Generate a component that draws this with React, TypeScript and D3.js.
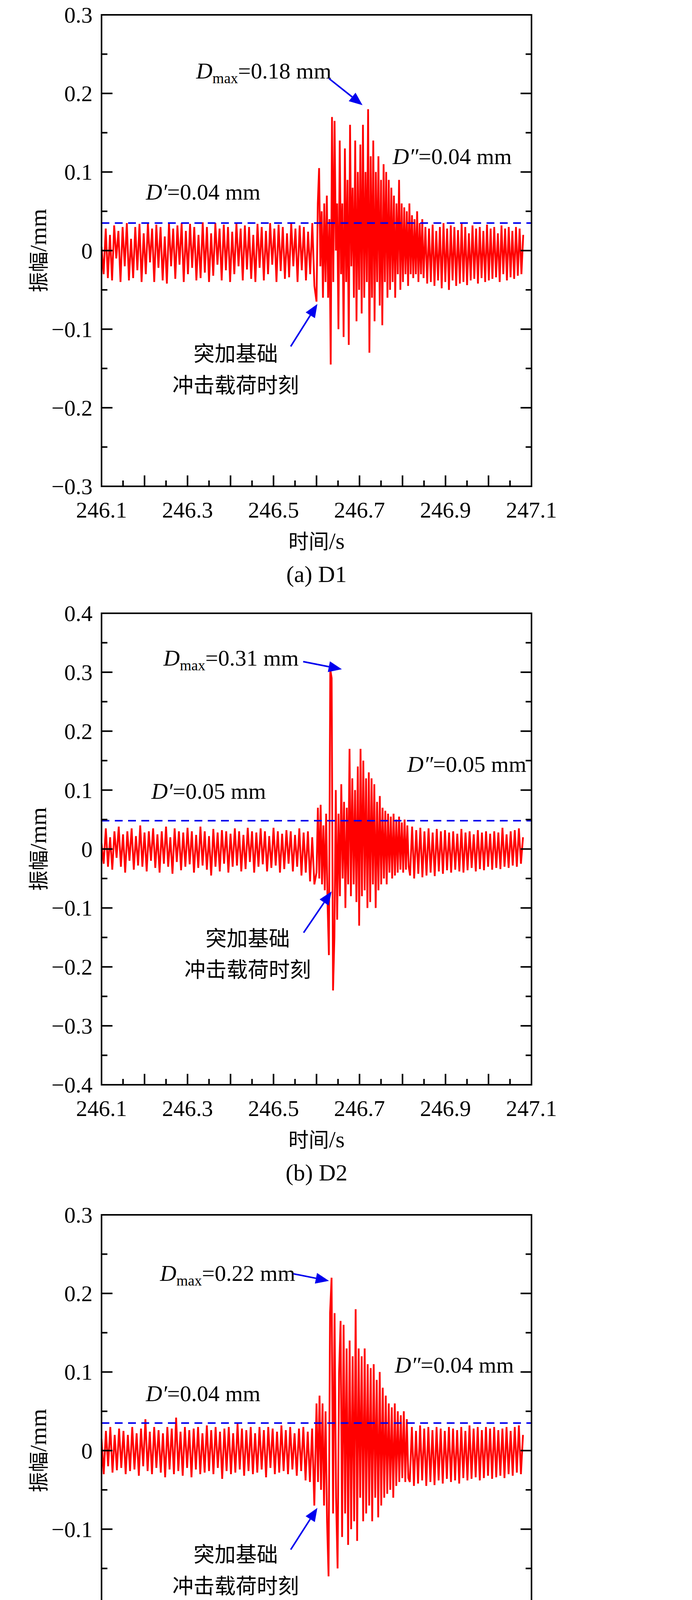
import React from "react";
import * as d3 from "d3";

const X_TICKS = [246.1, 246.3, 246.5, 246.7, 246.9, 247.1];
const PANEL_NAMES = ["(a) D1", "(b) D2", "(c) D3", "(d) D4"];
const Y_DOMAINS: [number, number][] = [[-0.3, 0.3], [-0.4, 0.4], [-0.3, 0.3], [-0.3, 0.3]];
const DMAX = ["0.18", "0.31", "0.22", "0.20"];
const DPRIME = ["0.04", "0.05", "0.04", "0.05"];
const DDPRIME = ["0.04", "0.05", "0.04", "0.05"];
const THRESH = [0.035, 0.048, 0.035, 0.048];

// signal samples in micrometres (×0.001 mm)
const BASE1 = [5,-30,28,-35,20,-38,32,-10,25,-40,30,-20,35,-38,15,-35,30,-25,34,-40,22,-30,35,-15,28,-40,33,-22,30,-38,18,-42,35,-20,28,-36,32,-18,35,-40,25,-30,34,-22,30,-38,20,-35,36,-28,30,-40,22,-32,35,-18,28,-38,33,-25,30,-40,24,-30,35,-20,28,-38,32,-24,30,-36,20,-40,34,-22,30,-38,25,-30,35,-18,28,-40,33,-26,30,-36,22,-34,35,-20,28,-40,32,-25,30,-38,24,-30,35,-45];
const BURST1 = [-65,60,105,-20,50,-60,60,-40,70,-60,40,-145,170,-40,165,0,60,-100,140,-30,60,-110,130,-40,90,-120,160,-20,80,-60,140,-90,100,-50,135,-80,160,-60,100,-40,180,-130,120,-60,140,-90,100,-40,120,-70,90,-95,110,-40,100,-60,90,-50,80,-40,70,-60,60,-30,90,-50,60,-40,55,-30,50,-45,60,-30,45,-35,40,-30,50,-40,35,-30,40];
const TAIL1 = [-35,30,-42,28,-40,33,-45,25,-38,30,-48,35,-40,28,-50,32,-38,30,-45,26,-42,34,-40,30,-44,22,-38,32,-36,28,-42,30,-35,25,-40,33,-38,28,-36,30,-34,22,-40,32,-30,28,-38,30,-34,25,-36,30,-32,28,-30,20];

const BASE2 = [10,-25,35,-30,20,-35,30,-15,38,-30,25,-40,30,-20,35,-35,22,-28,40,-30,28,-38,30,-20,35,-32,25,-40,30,-25,38,-30,20,-42,35,-22,30,-36,28,-30,36,-26,30,-40,24,-32,38,-28,30,-35,22,-45,34,-30,28,-38,32,-25,30,-40,26,-30,35,-28,30,-38,24,-34,36,-22,30,-40,28,-30,35,-26,30,-38,22,-32,36,-28,30,-40,26,-34,32,-25,30,-38,24,-30,35,-45,28,-40,30,-55,20,-60];
const BURST2 = [-40,70,-50,75,-60,40,-70,60,-90,-180,305,290,-240,-150,100,-120,60,-80,110,-50,80,-100,70,-60,170,-80,120,-60,100,-90,140,-130,170,-80,150,-70,120,-100,130,-90,120,-60,110,-100,80,-70,90,-60,70,-50,65,-60,60,-40,55,-50,60,-45,50,-40,55,-35,45,-40,50,-35,40,-30];
const TAIL2 = [-45,38,-50,32,-42,36,-48,30,-45,35,-40,28,-46,34,-38,30,-42,32,-36,28,-40,30,-35,26,-38,34,-40,28,-36,30,-32,25,-38,32,-34,28,-36,30,-30,26,-35,30,-32,28,-34,36,-30,25,-32,30,-28,32,-30,35,-25,20];

const BASE3 = [15,-30,25,-20,30,-28,20,-25,28,-22,25,-30,20,-26,30,-24,22,-32,28,-20,40,-26,24,-30,30,-22,26,-28,22,-34,30,-24,28,-30,42,-26,24,-32,30,-22,26,-34,28,-24,30,-30,22,-28,32,-26,26,-30,30,-22,24,-36,28,-26,30,-30,22,-28,34,-24,28,-32,26,-26,30,-30,22,-28,30,-24,26,-34,30,-22,28,-30,24,-28,32,-26,26,-30,30,-24,22,-32,28,-26,30,-38,24,-40,28,-70];
const BURST3 = [60,-40,70,-50,60,-70,50,-90,-160,175,220,-80,175,-60,-150,100,165,-110,160,-80,130,-120,140,-100,120,-90,180,-115,130,-60,120,-90,130,-80,110,-70,105,-90,110,-60,90,-85,100,-70,80,-60,70,-55,60,-50,55,-60,60,-45,50,-40,45,-35,50,-40,40,-35];
const TAIL3 = [-40,30,-45,25,-42,32,-38,28,-45,30,-40,26,-44,30,-38,28,-42,25,-36,30,-40,28,-38,26,-42,30,-35,25,-38,32,-36,28,-34,30,-38,26,-35,30,-32,28,-36,30,-34,26,-32,28,-35,30,-30,25,-32,30,-28,32,-30,20];

const BASE4 = [15,-30,40,-25,30,-35,50,-20,35,-38,30,-25,45,-40,28,-30,40,-35,30,-28,42,-45,30,-25,38,-40,32,-30,45,-35,28,-42,40,-30,35,-38,30,-28,42,-40,32,-30,45,-35,30,-42,38,-28,35,-40,30,-32,44,-36,28,-40,38,-30,42,-35,30,-38,40,-30,35,-42,32,-28,45,-38,30,-40,36,-30,40,-35,30,-42,38,-28,45,-40,30,-36,42,-30,35,-40,30,-38,44,-32,30,-45,36,-40,30,-48,34,-50,40,-40,30,-50,25,-60];
const BURST4 = [100,-60,-150,210,-100,105,-80,170,-130,110,-90,160,-95,95,-60,125,-100,110,-90,100,-70,110,-130,100,-80,90,-60,90,-50,80,-60,85,-70,75,-55,80,-60,70,-50,60];
const TAIL4 = [-60,50,-55,45,-62,40,-58,55,-50,45,-65,40,-55,48,-60,42,-50,45,-62,38,-55,40,-50,45,-48,38,-45,42,-50,35,-44,40,-42,36,-45,38,-40,35,-42,40,-38,34,-40,36,-42,38,-36,30,-40,34,-35,30,-38,32,-30,36,-40,30,-35,20];

const SEGMENTS = [
  { base: BASE1, burst: BURST1, tail: TAIL1, burstStart: 246.6, burstStep: 0.003 },
  { base: BASE2, burst: BURST2, tail: TAIL2, burstStart: 246.6, burstStep: 0.0032 },
  { base: BASE3, burst: BURST3, tail: TAIL3, burstStart: 246.6, burstStep: 0.0035 },
  { base: BASE4, burst: BURST4, tail: TAIL4, burstStart: 246.625, burstStep: 0.005 },
];

// annotation anchors in data coordinates
const ANNOT = [
  { dmax: [246.32, 0.219], a1: [246.629, 0.219, 246.707, 0.185], dpp: [246.777, 0.11], dp: [246.203, 0.065], cn: [246.412, -0.141, -0.181], a2: [246.54, -0.122, 246.602, -0.068] },
  { dmax: [246.244, 0.311], a1: [246.569, 0.318, 246.659, 0.305], dpp: [246.811, 0.131], dp: [246.216, 0.085], cn: [246.44, -0.165, -0.218], a2: [246.57, -0.142, 246.635, -0.072] },
  { dmax: [246.236, 0.216], a1: [246.546, 0.225, 246.629, 0.216], dpp: [246.782, 0.099], dp: [246.203, 0.063], cn: [246.412, -0.142, -0.182], a2: [246.54, -0.126, 246.602, -0.073] },
  { dmax: [246.355, 0.217], a1: [246.688, 0.217, 246.772, 0.186], dpp: [246.861, 0.106], dp: [246.229, 0.065], cn: [246.477, -0.119, -0.157], a2: [246.599, -0.097, 246.667, -0.045] },
];

const TOPS = [38, 1570, 3110, 4649];
const L = 260, R = 1361, H = 1207;
const SERIF = "'Liberation Serif', 'Times New Roman', serif";
const CJK = "'Noto Sans CJK SC', sans-serif";

function buildSeries(s: typeof SEGMENTS[0]): [number, number][] {
  const pts: [number, number][] = [];
  const baseStep = (s.burstStart - 246.1) / s.base.length;
  s.base.forEach((v, i) => pts.push([246.1 + i * baseStep, v / 1000]));
  s.burst.forEach((v, i) => pts.push([s.burstStart + i * s.burstStep, v / 1000]));
  const tStart = s.burstStart + s.burst.length * s.burstStep;
  const tStep = (247.085 - tStart) / s.tail.length;
  s.tail.forEach((v, i) => pts.push([tStart + i * tStep, v / 1000]));
  return pts;
}

const fmt = (v: number) => (Math.abs(v) < 1e-9 ? "0" : (v < 0 ? "\u2212" : "") + Math.abs(v).toFixed(1));

function Arrow({ x1, y1, x2, y2 }: { x1: number; y1: number; x2: number; y2: number }) {
  const ang = Math.atan2(y2 - y1, x2 - x1);
  const len = 34, w = 14;
  const bx = x2 - len * Math.cos(ang), by = y2 - len * Math.sin(ang);
  const px = -Math.sin(ang) * w, py = Math.cos(ang) * w;
  return (
    <g>
      <line x1={x1} y1={y1} x2={bx} y2={by} stroke="#0000ee" strokeWidth={4} />
      <polygon points={`${x2},${y2} ${bx + px},${by + py} ${bx - px},${by - py}`} fill="#0000ee" />
    </g>
  );
}

function Panel({ idx }: { idx: number }) {
  const top = TOPS[idx];
  const x = d3.scaleLinear().domain([246.1, 247.1]).range([L, R]);
  const y = d3.scaleLinear().domain(Y_DOMAINS[idx]).range([top + H, top]);
  const pts = buildSeries(SEGMENTS[idx]);
  const line = d3.line<[number, number]>().x((d) => x(d[0])).y((d) => y(d[1]));
  const [y0, y1] = Y_DOMAINS[idx];
  const yMajor = d3.range(Math.round(y0 * 10), Math.round(y1 * 10) + 1).map((k) => k / 10);
  const yMinor = d3.range(Math.round(y0 * 20), Math.round(y1 * 20) + 1).filter((k) => k % 2 !== 0).map((k) => k / 20);
  const xMajor = d3.range(0, 11).map((k) => 246.1 + k / 10);
  const xMinor = d3.range(0, 10).map((k) => 246.15 + k / 10);
  const a = ANNOT[idx];
  const fs = 58;
  const afs = 58;
  return (
    <g>
      <path d={line(pts) || ""} fill="none" stroke="#ff0000" strokeWidth={4.5} />
      <line x1={L} x2={R} y1={y(THRESH[idx])} y2={y(THRESH[idx])} stroke="#0000ee" strokeWidth={4} strokeDasharray="20,14" />
      <rect x={L} y={top} width={R - L} height={H} fill="none" stroke="#000" strokeWidth={4} />
      {yMajor.map((v) => (
        <g key={"ym" + v}>
          <line x1={L} x2={L + 28} y1={y(v)} y2={y(v)} stroke="#000" strokeWidth={4} />
          <line x1={R} x2={R - 28} y1={y(v)} y2={y(v)} stroke="#000" strokeWidth={4} />
          <text x={237} y={y(v) + 20} textAnchor="end" fontFamily={SERIF} fontSize={fs}>{fmt(v)}</text>
        </g>
      ))}
      {yMinor.map((v) => (
        <g key={"yn" + v}>
          <line x1={L} x2={L + 15} y1={y(v)} y2={y(v)} stroke="#000" strokeWidth={4} />
          <line x1={R} x2={R - 15} y1={y(v)} y2={y(v)} stroke="#000" strokeWidth={4} />
        </g>
      ))}
      {xMajor.map((v, i) => (
        <line key={"xm" + i} x1={x(v)} x2={x(v)} y1={top + H} y2={top + H - 28} stroke="#000" strokeWidth={4} />
      ))}
      {xMinor.map((v, i) => (
        <line key={"xn" + i} x1={x(v)} x2={x(v)} y1={top + H} y2={top + H - 15} stroke="#000" strokeWidth={4} />
      ))}
      {X_TICKS.map((v) => (
        <text key={"xl" + v} x={x(v)} y={top + H + 80} textAnchor="middle" fontFamily={SERIF} fontSize={fs}>{v.toFixed(1)}</text>
      ))}
      <text x={(L + R) / 2} y={top + 1367} textAnchor="middle" fontFamily={CJK} fontSize={52}>
        时间<tspan fontFamily={SERIF} fontSize={60}>/s</tspan>
      </text>
      <text x={(L + R) / 2} y={top + 1452} textAnchor="middle" fontFamily={SERIF} fontSize={60}>{PANEL_NAMES[idx]}</text>
      <text transform={`translate(118, ${top + H / 2}) rotate(-90)`} textAnchor="middle" fontFamily={CJK} fontSize={52}>
        振幅<tspan fontFamily={SERIF} fontSize={60}>/mm</tspan>
      </text>
      <text x={x(a.dmax[0])} y={y(a.dmax[1])} fontFamily={SERIF} fontSize={afs}>
        <tspan fontStyle="italic">D</tspan>
        <tspan fontSize={38} dy={12}>max</tspan>
        <tspan dy={-12}>={DMAX[idx]} mm</tspan>
      </text>
      <Arrow x1={x(a.a1[0])} y1={y(a.a1[1])} x2={x(a.a1[2])} y2={y(a.a1[3])} />
      <text x={x(a.dpp[0])} y={y(a.dpp[1])} fontFamily={SERIF} fontSize={afs}>
        <tspan fontStyle="italic">D″</tspan>={DDPRIME[idx]} mm
      </text>
      <text x={x(a.dp[0])} y={y(a.dp[1])} fontFamily={SERIF} fontSize={afs}>
        <tspan fontStyle="italic">D′</tspan>={DPRIME[idx]} mm
      </text>
      <text x={x(a.cn[0])} y={y(a.cn[1])} textAnchor="middle" fontFamily={CJK} fontSize={54}>突加基础</text>
      <text x={x(a.cn[0])} y={y(a.cn[2])} textAnchor="middle" fontFamily={CJK} fontSize={54}>冲击载荷时刻</text>
      <Arrow x1={x(a.a2[0])} y1={y(a.a2[1])} x2={x(a.a2[2])} y2={y(a.a2[3])} />
    </g>
  );
}

export default function App() {
  return (
    <div style={{ margin: -8, width: 1772, height: 6116, overflow: "hidden" }}>
      <svg width={1772} height={6116} style={{ display: "block", background: "#fff" }}>
        <rect width={1772} height={6116} fill="#fff" />
        {[0, 1, 2, 3].map((i) => <Panel key={i} idx={i} />)}
      </svg>
    </div>
  );
}
